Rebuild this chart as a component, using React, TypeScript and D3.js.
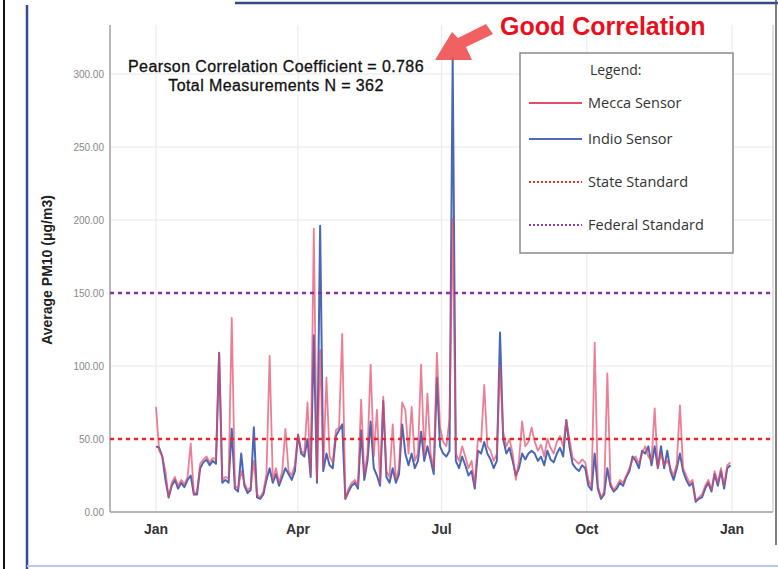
import React from "react";
import * as d3 from "d3";

// ---- data (2-day samples, starting Jan 1) ----
const meccaValues: number[] = [
  72, 42, 38, 28, 10, 20, 24, 18, 22, 19,
  24, 47, 12, 14, 33, 36, 38, 34, 37, 36,
  109, 22, 24, 23, 133, 18, 16, 28, 20, 15,
  17, 35, 12, 10, 14, 26, 107, 22, 30, 20,
  28, 57, 28, 25, 32, 53, 42, 40, 75, 26,
  194, 22, 111, 30, 92, 38, 34, 56, 58, 122,
  9, 16, 20, 22, 18, 77, 25, 40, 101, 38,
  70, 20, 79, 28, 24, 60, 22, 30, 75, 70,
  40, 72, 35, 40, 101, 38, 81, 40, 30, 109,
  58, 48, 45, 64, 201, 40, 35, 45, 38, 30,
  35, 18, 50, 48, 87, 45, 42, 35, 40, 100,
  55, 45, 50, 40, 22, 35, 62, 45, 48, 58,
  48, 42, 46, 38, 50, 44, 40, 48, 52, 45,
  63, 50, 37, 35, 33, 36, 34, 22, 17, 116,
  18, 10, 14, 95, 20, 15, 18, 22, 20, 25,
  30, 36, 38, 33, 40, 45, 38, 35, 71, 30,
  40, 32, 35, 30, 25, 33, 73, 30, 25, 20,
  22, 8, 10, 12, 18, 22, 15, 28, 20, 30,
  18, 32, 34,
];
const indioValues: number[] = [
  45, 44, 38, 22, 10, 18, 22, 16, 20, 17,
  22, 25, 12, 12, 30, 34, 36, 32, 35, 33,
  109, 20, 22, 20, 57, 16, 14, 40, 18, 13,
  15, 58, 10, 9, 12, 22, 30, 20, 26, 18,
  24, 30, 26, 22, 28, 53, 40, 38, 50, 24,
  121, 20, 196, 28, 40, 32, 30, 52, 56, 60,
  9, 14, 18, 20, 16, 56, 22, 35, 62, 30,
  25, 18, 76, 24, 20, 30, 20, 26, 60, 40,
  32, 40, 30, 35, 55, 35, 45, 36, 26, 92,
  45, 40, 38, 42, 311, 35, 30, 38, 32, 25,
  28, 16, 42, 40, 48, 40, 36, 30, 35, 123,
  50, 40, 44, 35, 25, 30, 40, 36, 40, 42,
  40, 35, 38, 32, 42, 36, 34, 40, 44, 38,
  63, 45, 33, 30, 28, 32, 30, 18, 15, 40,
  16, 9, 12, 30, 18, 14, 16, 20, 18, 24,
  28, 38, 35, 30, 42, 40, 45, 32, 45, 30,
  45, 30, 42, 28, 22, 30, 40, 28, 22, 18,
  20, 7, 9, 10, 16, 20, 14, 26, 18, 28,
  16, 30, 32,
];
const stepDays = 2;
const startDate = new Date(2017, 0, 1);
const endDate = new Date(2018, 0, 1);
const xTickDates = [new Date(2017, 0, 1), new Date(2017, 3, 1), new Date(2017, 6, 1), new Date(2017, 9, 1), new Date(2018, 0, 1)];
const xTickLabels = ["Jan", "Apr", "Jul", "Oct", "Jan"];
const yTicks = [0, 50, 100, 150, 200, 250, 300];
const stateStandard = 50;
const federalStandard = 150;
const legendItems = [
  { label: "Mecca Sensor", color: "#e0506a", dash: "", width: 2 },
  { label: "Indio Sensor", color: "#4a6db4", dash: "", width: 2.2 },
  { label: "State Standard", color: "#e8303a", dash: "2,2", width: 2 },
  { label: "Federal Standard", color: "#8a40b0", dash: "2,2", width: 2 },
];

const W = 778;
const H = 569;
const frame = { left: 110, right: 773, top: 25, bottom: 512 };

export default function App() {
  const x = d3.scaleTime().domain([startDate, endDate]).range([156, 732]);
  const y = d3.scaleLinear().domain([0, 300]).range([512, 74]);
  const dates = meccaValues.map((_, i) => d3.timeDay.offset(startDate, i * stepDays));
  const line = d3
    .line<number>()
    .x((_, i) => x(dates[i]))
    .y((v) => y(v));
  const fmt = d3.format(".2f");
  const legendRowY = [103, 139, 182, 225];

  return (
    <svg
      width={W}
      height={H}
      style={{ position: "absolute", left: 0, top: 0, background: "#fff" }}
      fontFamily="'Liberation Sans', Arial, sans-serif"
    >
      {/* outer decorations */}
      <line x1={4} x2={4} y1={0} y2={H} stroke="#111" strokeWidth={2} />
      <line x1={27} x2={27} y1={5} y2={H} stroke="#2e5090" strokeWidth={2.5} />
      <line x1={235} x2={W} y1={3} y2={3} stroke="#2e4a80" strokeWidth={2.5} />
      <line x1={776} x2={776} y1={0} y2={545} stroke="#555" strokeWidth={1.5} />
      <line x1={27} x2={W} y1={566} y2={566} stroke="#b9c6f2" strokeWidth={2} />

      {/* grid */}
      {yTicks.map((t) => (
        <line key={"gy" + t} x1={frame.left} x2={frame.right} y1={y(t)} y2={y(t)} stroke="#e8e8e4" strokeWidth={1} />
      ))}
      {xTickDates.map((d, i) => (
        <line key={"gx" + i} x1={x(d)} x2={x(d)} y1={frame.top} y2={frame.bottom} stroke="#e8e8e4" strokeWidth={1} />
      ))}

      {/* frame */}
      <line x1={frame.left} x2={frame.left} y1={frame.top} y2={frame.bottom} stroke="#a0a0a0" strokeWidth={1.5} />
      <line x1={frame.left} x2={frame.right} y1={frame.bottom} y2={frame.bottom} stroke="#a0a0a0" strokeWidth={1.5} />
      <line x1={frame.right} x2={frame.right} y1={frame.top} y2={frame.bottom} stroke="#c0c0c0" strokeWidth={1} />

      {/* y tick labels */}
      {yTicks.map((t) => (
        <text key={"yl" + t} x={104} y={y(t) + 4} fontSize={10} fill="#888" textAnchor="end">
          {fmt(t)}
        </text>
      ))}
      {/* x tick labels */}
      {xTickDates.map((d, i) => (
        <text key={"xl" + i} x={x(d)} y={534} fontSize={14} fontWeight="bold" fill="#333" textAnchor="middle">
          {xTickLabels[i]}
        </text>
      ))}
      <text
        transform={`translate(52,270) rotate(-90)`}
        fontSize={14}
        fontWeight="bold"
        fill="#222"
        textAnchor="middle"
      >
        Average PM10 (μg/m3)
      </text>

      {/* series */}
      <path d={line(indioValues) || ""} fill="none" stroke="#3f5fb0" strokeWidth={2} strokeOpacity={0.95} strokeLinejoin="round" />
      <path d={line(meccaValues) || ""} fill="none" stroke="#e4486a" strokeWidth={1.8} strokeOpacity={0.7} strokeLinejoin="round" />

      {/* standards */}
      <line x1={frame.left} x2={frame.right} y1={y(stateStandard)} y2={y(stateStandard)} stroke="#e8242c" strokeWidth={2.5} strokeDasharray="4,4" />
      <line x1={frame.left} x2={frame.right} y1={y(federalStandard)} y2={y(federalStandard)} stroke="#8b2fa8" strokeWidth={2.5} strokeDasharray="4,4" />

      {/* annotations */}
      <text x={276} y={72} fontSize={16} letterSpacing={0.4} fill="#111" textAnchor="middle" stroke="#111" strokeWidth={0.3}>
        Pearson Correlation Coefficient = 0.786
      </text>
      <text x={276} y={91} fontSize={16} letterSpacing={0.4} fill="#111" textAnchor="middle" stroke="#111" strokeWidth={0.3}>
        Total Measurements N = 362
      </text>
      <text x={500} y={35} fontSize={25} fontWeight="bold" fill="#e8101e">
        Good Correlation
      </text>
      <polygon
        points="486,24 493,34 466,47 472,60 435,60 452,32 458,38"
        fill="#f05050"
        opacity={0.9}
      />

      {/* legend */}
      <rect x={520} y={53} width={213} height={200} fill="#fff" stroke="#8a8a8a" strokeWidth={1.5} />
      <text x={590} y={75} fontSize={14} fill="#333" fontFamily="'Open Sans', sans-serif">
        Legend:
      </text>
      {legendItems.map((it, i) => (
        <g key={it.label}>
          <line x1={529} x2={582} y1={legendRowY[i]} y2={legendRowY[i]} stroke={it.color} strokeWidth={it.width} strokeDasharray={it.dash || undefined} />
          <text x={588} y={legendRowY[i] + 5} fontSize={14.5} fill="#333" fontFamily="'Open Sans', sans-serif">
            {it.label}
          </text>
        </g>
      ))}
    </svg>
  );
}
